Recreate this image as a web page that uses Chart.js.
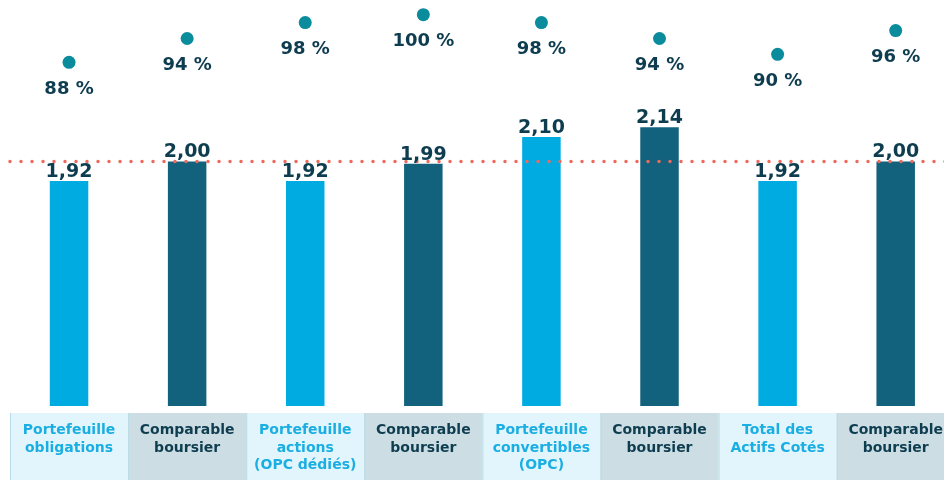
<!DOCTYPE html>
<html lang="fr">
<head>
<meta charset="utf-8">
<script src="https://cdn.jsdelivr.net/npm/chart.js@4/dist/chart.umd.min.js"></script>
<style>
  html, body { margin: 0; padding: 0; background: #ffffff; overflow: hidden; }
  #wrap { position: relative; width: 944px; height: 480px; overflow: hidden; }
  #chart { display: block; }
</style>
</head>
<body>
<div id="wrap"><canvas id="chart" width="959" height="480"></canvas></div>
<script>
// Catégories (libellés sur plusieurs lignes)
const categories = [
  ["Portefeuille", "obligations"],
  ["Comparable", "boursier"],
  ["Portefeuille", "actions", "(OPC dédiés)"],
  ["Comparable", "boursier"],
  ["Portefeuille", "convertibles", "(OPC)"],
  ["Comparable", "boursier"],
  ["Total des", "Actifs Cotés"],
  ["Comparable", "boursier"]
];
// Indicateur (barres)
const indicatorValues = [1.92, 2.00, 1.92, 1.99, 2.10, 2.14, 1.92, 2.00];
// Taux de couverture (points, en %)
const coverageValues = [88, 94, 98, 100, 98, 94, 90, 96];
// Niveau de référence (ligne pointillée)
const referenceLevel = 2.00;

const LIGHT = "#00ABE2";
const DARK = "#13627D";
const NAVY = "#0F3D50";
const TEAL = "#0A8C9C";
const isPortfolio = categories.map((_, i) => i % 2 === 0);

const fmt = v => v.toFixed(2).replace(".", ",");

// Fonds des cellules de libellés
const cellsPlugin = {
  id: "cells",
  beforeDraw(chart) {
    const { ctx, scales: { x }, height } = chart;
    const slot = (x.right - x.left) / categories.length;
    const top = chart.chartArea.bottom + 7;
    ctx.save();
    categories.forEach((_, i) => {
      const cx = x.getPixelForValue(i);
      ctx.fillStyle = isPortfolio[i] ? "#E2F5FC" : "#CCDEE4";
      ctx.fillRect(cx - slot / 2, top, slot, height - top);
      ctx.fillStyle = "#B9DAE6";
      ctx.fillRect(cx - slot / 2, top, 1, height - top);
    });
    ctx.restore();
  }
};

// Ligne de référence pointillée
const refLinePlugin = {
  id: "refLine",
  afterDatasetsDraw(chart) {
    const { ctx, chartArea, scales: { y } } = chart;
    const py = y.getPixelForValue(referenceLevel);
    ctx.save();
    ctx.strokeStyle = "#EE6A5C";
    ctx.lineWidth = 3.5;
    ctx.lineCap = "round";
    ctx.setLineDash([0, 11]);
    ctx.beginPath();
    ctx.moveTo(chartArea.left, py);
    ctx.lineTo(chartArea.right, py);
    ctx.stroke();
    ctx.restore();
  }
};

// Étiquettes de valeurs
const valueLabelsPlugin = {
  id: "valueLabels",
  afterDraw(chart) {
    const { ctx } = chart;
    ctx.save();
    ctx.fillStyle = NAVY;
    ctx.textAlign = "center";
    const bars = chart.getDatasetMeta(0).data;
    ctx.font = "bold 19px 'DejaVu Sans'";
    ctx.textBaseline = "alphabetic";
    bars.forEach((el, i) => {
      ctx.fillText(fmt(indicatorValues[i]), el.x, el.y - 4);
    });
    const pts = chart.getDatasetMeta(1).data;
    ctx.font = "bold 18px 'DejaVu Sans'";
    ctx.textBaseline = "middle";
    pts.forEach((el, i) => {
      ctx.fillText(coverageValues[i] + " %", el.x, el.y + 27);
    });
    ctx.restore();
  }
};

new Chart(document.getElementById("chart"), {
  data: {
    labels: categories,
    datasets: [
      {
        type: "bar",
        data: indicatorValues,
        yAxisID: "y",
        backgroundColor: indicatorValues.map((_, i) => isPortfolio[i] ? LIGHT : DARK),
        borderWidth: 0,
        categoryPercentage: 1,
        barPercentage: 0.326,
        order: 2
      },
      {
        type: "line",
        data: coverageValues,
        yAxisID: "y2",
        showLine: false,
        pointRadius: 6.5,
        pointHoverRadius: 6.5,
        pointBackgroundColor: TEAL,
        pointBorderWidth: 0,
        order: 1
      }
    ]
  },
  options: {
    responsive: false,
    animation: false,
    events: [],
    layout: { autoPadding: false, padding: { left: 10, right: 0, top: 0, bottom: 0 } },
    plugins: { legend: { display: false }, tooltip: { enabled: false } },
    scales: {
      x: {
        offset: true,
        grid: { display: false, drawTicks: false },
        border: { display: false },
        afterFit(scale) { scale.height = 74; },
        ticks: {
          autoSkip: false,
          maxRotation: 0,
          padding: 16,
          font: { family: "'DejaVu Sans'", size: 14, weight: "bold", lineHeight: 1.25 },
          color: categories.map((_, i) => isPortfolio[i] ? "#1AAEE2" : NAVY)
        }
      },
      y: { display: false, min: 1, max: 2.66 },
      y2: { display: false, min: 1.4, max: 103.7 }
    }
  },
  plugins: [cellsPlugin, refLinePlugin, valueLabelsPlugin]
});
</script>
</body>
</html>
